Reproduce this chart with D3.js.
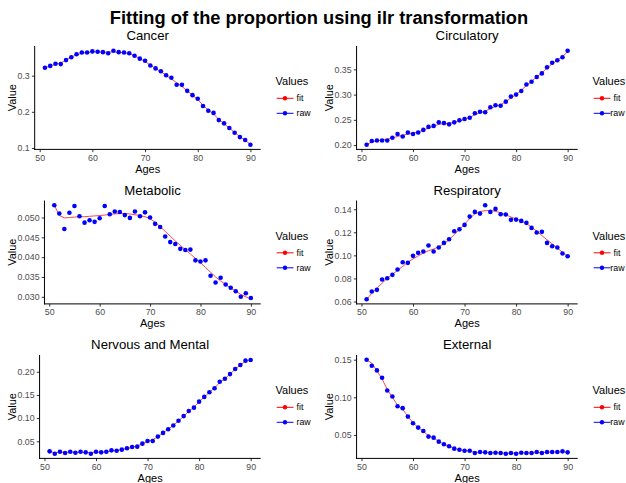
<!DOCTYPE html>
<html>
<head>
<meta charset="utf-8">
<script src="https://cdn.jsdelivr.net/npm/d3@7"></script>
<style>
  html, body { margin: 0; padding: 0; background: #fff; }
  svg { display: block; font-family: "Liberation Sans", Arial, sans-serif; }
</style>
</head>
<body>
<svg id="chart" width="626" height="483"></svg>
<script>
// ---------------- DATA ----------------
const ages = d3.range(51, 91);
const xTicks = [50, 60, 70, 80, 90];
const mainTitle = "Fitting of the proportion using ilr transformation";
const panelNames = ["Cancer", "Circulatory", "Metabolic", "Respiratory", "Nervous and Mental", "External"];
const legendTitle = "Values";
const legendLabels = ["fit", "raw"];

const cancerRaw = [0.322,0.327,0.333,0.332,0.343,0.351,0.359,0.364,0.364,0.367,0.366,0.365,0.362,0.369,0.365,0.364,0.362,0.355,0.347,0.341,0.328,0.320,0.312,0.301,0.294,0.275,0.275,0.258,0.246,0.236,0.216,0.203,0.197,0.177,0.168,0.155,0.142,0.130,0.122,0.109];
const cancerFit = [0.322,0.327,0.331,0.335,0.343,0.351,0.358,0.362,0.364,0.366,0.366,0.365,0.365,0.366,0.365,0.364,0.361,0.355,0.347,0.339,0.329,0.320,0.311,0.301,0.291,0.280,0.270,0.258,0.246,0.234,0.218,0.205,0.194,0.179,0.167,0.155,0.143,0.131,0.121,0.110];

const circRaw = [0.2007,0.208,0.209,0.209,0.209,0.2145,0.222,0.217,0.225,0.222,0.225,0.230,0.236,0.238,0.245,0.2435,0.241,0.245,0.249,0.2515,0.254,0.263,0.266,0.265,0.275,0.279,0.278,0.286,0.296,0.300,0.307,0.320,0.3255,0.335,0.342,0.354,0.363,0.368,0.374,0.387];
const circFit = [0.2010,0.2060,0.2085,0.2100,0.2115,0.2140,0.2170,0.2195,0.2215,0.2235,0.2260,0.2295,0.2335,0.2375,0.2410,0.2425,0.2430,0.2450,0.2480,0.2510,0.2550,0.2600,0.2640,0.2670,0.2720,0.2765,0.2800,0.2860,0.2935,0.3005,0.3085,0.3180,0.3265,0.3350,0.3430,0.3525,0.3610,0.3680,0.3755,0.3850];

const metaRaw = [0.0531,0.0510,0.0471,0.0512,0.0529,0.0503,0.0487,0.0493,0.0489,0.0498,0.0529,0.0508,0.0515,0.0514,0.0506,0.0499,0.0515,0.0503,0.0513,0.0500,0.0484,0.0476,0.0452,0.0438,0.0433,0.0421,0.0418,0.0419,0.0392,0.0389,0.0392,0.0353,0.0336,0.0348,0.0331,0.0323,0.0314,0.0300,0.0309,0.0297];
const metaFit = [0.0531,0.0505,0.0499,0.0500,0.0501,0.0502,0.0502,0.0503,0.0504,0.0505,0.0506,0.0508,0.0509,0.0510,0.0510,0.0509,0.0507,0.0505,0.0502,0.0497,0.0488,0.0477,0.0465,0.0453,0.0441,0.0430,0.0419,0.0408,0.0397,0.0386,0.0374,0.0362,0.0350,0.0340,0.0331,0.0322,0.0314,0.0306,0.0300,0.0294];

const respRaw = [0.0620,0.0687,0.0701,0.0791,0.0802,0.0831,0.0877,0.0941,0.0935,0.0996,0.1022,0.1033,0.1085,0.1033,0.1068,0.1108,0.1140,0.1209,0.1227,0.1264,0.1336,0.1377,0.1362,0.1435,0.1377,0.1403,0.1357,0.1354,0.1308,0.1310,0.1299,0.1282,0.1238,0.1198,0.1204,0.1108,0.1079,0.1068,0.1016,0.0993];
const respFit = [0.0620,0.0670,0.0715,0.0760,0.0800,0.0835,0.0870,0.0905,0.0940,0.0970,0.0995,0.1020,0.1040,0.1055,0.1075,0.1100,0.1135,0.1180,0.1225,0.1270,0.1320,0.1360,0.1380,0.1388,0.1388,0.1382,0.1370,0.1352,0.1333,0.1315,0.1298,0.1275,0.1245,0.1210,0.1172,0.1135,0.1100,0.1065,0.1025,0.0990];

const nervRaw = [0.0283,0.0232,0.0275,0.0246,0.0275,0.0254,0.0275,0.0261,0.0232,0.0275,0.0261,0.0275,0.0304,0.0297,0.0319,0.0348,0.0377,0.0384,0.0449,0.0507,0.0507,0.0601,0.0681,0.0761,0.0841,0.0942,0.1043,0.1152,0.1225,0.1355,0.1457,0.1558,0.1645,0.1783,0.1848,0.1949,0.2058,0.2145,0.2239,0.2254];
const nervFit = [0.0270,0.0258,0.0262,0.0260,0.0263,0.0262,0.0263,0.0258,0.0255,0.0262,0.0266,0.0275,0.0290,0.0302,0.0320,0.0345,0.0372,0.0398,0.0445,0.0495,0.0535,0.0600,0.0680,0.0760,0.0843,0.0940,0.1040,0.1145,0.1235,0.1350,0.1455,0.1555,0.1650,0.1770,0.1850,0.1950,0.2055,0.2145,0.2225,0.2260];

const extRaw = [0.1500,0.1420,0.1358,0.1260,0.1091,0.1011,0.0882,0.0856,0.0744,0.0656,0.0598,0.0553,0.0478,0.0464,0.0411,0.0376,0.0349,0.0318,0.0304,0.0291,0.0291,0.0260,0.0273,0.0269,0.0260,0.0264,0.0260,0.0251,0.0260,0.0251,0.0264,0.0260,0.0260,0.0273,0.0260,0.0273,0.0273,0.0273,0.0282,0.0269];
const extFit = [0.1495,0.1455,0.1350,0.1245,0.1105,0.1000,0.0895,0.0840,0.0748,0.0660,0.0600,0.0548,0.0490,0.0460,0.0413,0.0377,0.0347,0.0320,0.0303,0.0292,0.0285,0.0270,0.0270,0.0266,0.0263,0.0262,0.0260,0.0256,0.0258,0.0257,0.0261,0.0261,0.0262,0.0266,0.0266,0.0270,0.0272,0.0274,0.0277,0.0272];

const cancerTicks = ["0.1","0.2","0.3"];
const circTicks = ["0.20","0.25","0.30","0.35"];
const metaTicks = ["0.030","0.035","0.040","0.045","0.050"];
const respTicks = ["0.06","0.08","0.10","0.12","0.14"];
const nervTicks = ["0.05","0.10","0.15","0.20"];
const extTicks = ["0.05","0.10","0.15"];

const rawSeries = [cancerRaw, circRaw, metaRaw, respRaw, nervRaw, extRaw];
const fitSeries = [cancerFit, circFit, metaFit, respFit, nervFit, extFit];
const tickSeries = [cancerTicks, circTicks, metaTicks, respTicks, nervTicks, extTicks];

// ---------------- DRAW ----------------
const W = 626;
const svg = d3.select("#chart");
const FIT_COLOR = "#FF0000", RAW_COLOR = "#0000FF";
const TICK_TEXT = "#4D4D4D";

svg.append("text")
  .attr("x", 319).attr("y", 23.5)
  .attr("text-anchor", "middle")
  .attr("font-size", "18.3px").attr("font-weight", "bold")
  .attr("fill", "#000")
  .text(mainTitle);

// measuring helper
const measure = svg.append("text").attr("font-size", "8.8px").attr("visibility", "hidden");
function textW(s) { measure.text(s); return measure.node().getComputedTextLength(); }

const colW = 317;
panelNames.forEach((name, i) => {
  const col = i % 2, row = Math.floor(i / 2);
  const colX = col * colW;
  const top = 46 + row * 154.5;
  const bottom = top + 103.4;
  const ticks = tickSeries[i];
  const labW = d3.max(ticks, t => textW(t));
  const left = colX + 17.5 + labW + 4.95;
  const right = colX + 260.7;

  const g = svg.append("g");
  const raw = rawSeries[i], fit = fitSeries[i];
  const ext = d3.extent(raw.concat(fit));
  const pad = (ext[1] - ext[0]) * 0.05;
  const y = d3.scaleLinear().domain([ext[0] - pad, ext[1] + pad]).range([bottom, top]);
  const x = d3.scaleLinear().domain([51 - 1.95, 90 + 1.95]).range([left, right]);

  // title
  g.append("text").attr("x", (left + right) / 2).attr("y", top - 5.8)
    .attr("text-anchor", "middle").attr("font-size", "13.2px").attr("fill", "#000").text(name);

  // fit line
  const line = d3.line().x((d, k) => x(ages[k])).y(d => y(d));
  g.append("path").datum(fit).attr("d", line)
    .attr("fill", "none").attr("stroke", FIT_COLOR).attr("stroke-width", 0.9).attr("stroke-opacity", 0.8);

  // raw points
  g.selectAll("circle.raw").data(raw).enter().append("circle")
    .attr("cx", (d, k) => x(ages[k])).attr("cy", d => y(d)).attr("r", 2.3)
    .attr("fill", RAW_COLOR);

  // axes
  const yAxis = d3.axisLeft(y).tickValues(ticks.map(Number)).tickSize(2.75).tickPadding(2.2)
    .tickFormat((d, k) => ticks[k]);
  const ya = g.append("g").attr("transform", `translate(${left},0)`).call(yAxis);
  const xAxis = d3.axisBottom(x).tickValues(xTicks).tickSize(2.75).tickPadding(2.2);
  const xa = g.append("g").attr("transform", `translate(0,${bottom})`).call(xAxis);
  [ya, xa].forEach(a => {
    a.select(".domain").remove();
    a.selectAll(".tick line").attr("stroke", "#333333").attr("stroke-width", 1);
    a.selectAll(".tick text").attr("fill", TICK_TEXT).attr("font-size", "8.8px")
      .attr("font-family", "'Liberation Sans', Arial, sans-serif");
  });
  // axis lines
  g.append("line").attr("x1", left).attr("x2", left).attr("y1", top).attr("y2", bottom + 0.5)
    .attr("stroke", "#000").attr("stroke-width", 1);
  g.append("line").attr("x1", left - 0.5).attr("x2", right).attr("y1", bottom).attr("y2", bottom)
    .attr("stroke", "#000").attr("stroke-width", 1);

  // axis titles
  g.append("text").attr("transform", `translate(${colX + 15.5},${(top + bottom) / 2}) rotate(-90)`)
    .attr("text-anchor", "middle").attr("font-size", "11px").attr("fill", "#000").text("Value");
  g.append("text").attr("x", (left + right) / 2).attr("y", bottom + 23.5)
    .attr("text-anchor", "middle").attr("font-size", "11px").attr("fill", "#000").text("Ages");

  // legend
  const lx = colX + 275.5;
  g.append("text").attr("x", lx).attr("y", top + 39).attr("font-size", "11px").attr("fill", "#000").text(legendTitle);
  const lcol = [FIT_COLOR, RAW_COLOR];
  legendLabels.forEach((lab, k) => {
    const cy = top + 52.3 + k * 15;
    g.append("line").attr("x1", colX + 276.7).attr("x2", colX + 293.5).attr("y1", cy).attr("y2", cy)
      .attr("stroke", lcol[k]).attr("stroke-width", 1);
    g.append("circle").attr("cx", colX + 285).attr("cy", cy).attr("r", 2.2).attr("fill", lcol[k]);
    const tx = Math.min(colX + 296.5, W - 1.5 - textW(lab));
    g.append("text").attr("x", tx).attr("y", cy).attr("dy", "0.35em")
      .attr("font-size", "8.8px").attr("fill", "#000").text(lab);
  });
});
measure.remove();
</script>
</body>
</html>
